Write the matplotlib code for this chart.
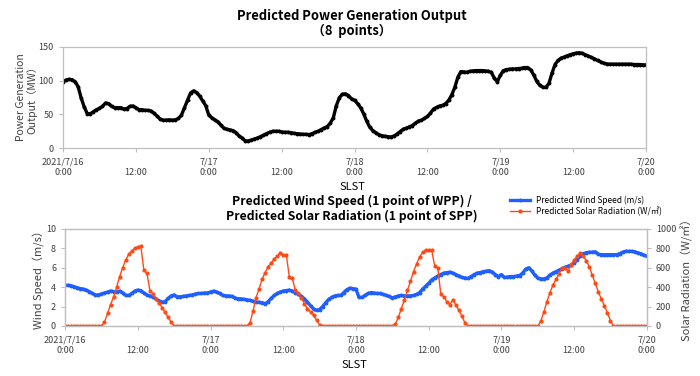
import numpy as np
import matplotlib
matplotlib.use("Agg")
from matplotlib import pyplot as plt

plt.rcParams['font.family'] = ['Noto Sans CJK JP', 'DejaVu Sans']

# 30-minute steps from 2021/7/16 0:00 to 7/20 0:00 (hours)
hours = np.arange(193) * 0.5

power_day1 = [98.5, 101, 102, 101.5, 98.5, 91, 74, 61, 51, 51, 54, 57,
              59, 62, 67, 66, 62, 60, 60, 60, 58, 58.5, 62, 62.5,
              60, 57, 57, 56, 56, 55, 51.5, 47.5, 43, 41.5, 41.5, 42,
              41.5, 42, 44, 49, 60, 71, 82, 85, 82.5, 77, 70, 63]
power_day2 = [49, 45, 42, 39, 34, 29.5, 28, 27, 26, 23, 18, 15,
              11, 10.5, 12, 13.5, 15, 17, 19, 21.5, 23.5, 25, 25, 25,
              24, 23.5, 23.5, 23, 22, 21.5, 21, 20.5, 20.5, 20, 21.5, 23.5,
              25, 27.5, 30, 32, 37, 45, 63, 75, 80, 80.5, 78, 73]
power_day3 = [71, 66, 60, 51, 40, 31, 26, 23, 20, 18.5, 17.5, 17,
              16.5, 18, 21, 24.5, 28, 29.5, 31.5, 33.5, 37, 40, 41.5, 44,
              47, 52, 58, 60.5, 62.5, 63.5, 66, 71, 79, 90, 105, 113.5,
              113, 112.5, 114, 114.5, 115, 115, 115, 114.5, 114, 112.5, 104, 98.5]
power_day4 = [108, 115, 116.5, 117, 117.5, 117.5, 118, 118.5, 119.5, 119.5, 116, 108.5,
              99, 93, 90.5, 90, 96, 111, 124, 130, 133.5, 135, 137, 138.5,
              140, 141, 141.5, 140.5, 138.5, 136.5, 134.5, 132.5, 130, 128, 126, 125,
              124.5, 124.5, 124.5, 124.5, 124.5, 124.5, 124.5, 124.5, 124, 124, 124, 123.5]
power = power_day1 + power_day2 + power_day3 + power_day4 + [123.5]

wind_day1 = [4.2, 4.2, 4.15, 4.05, 3.95, 3.85, 3.8, 3.7, 3.55, 3.35, 3.2, 3.2,
             3.3, 3.4, 3.5, 3.6, 3.55, 3.5, 3.6, 3.4, 3.15, 3.15, 3.35, 3.6,
             3.7, 3.65, 3.4, 3.2, 3.1, 3.0, 2.8, 2.6, 2.45, 2.5, 2.85, 3.1,
             3.2, 3.0, 3.0, 3.05, 3.1, 3.15, 3.2, 3.3, 3.35, 3.35, 3.4, 3.4]
wind_day2 = [3.5, 3.6, 3.5, 3.35, 3.15, 3.1, 3.1, 3.05, 2.9, 2.8, 2.8, 2.75,
             2.7, 2.65, 2.55, 2.45, 2.45, 2.4, 2.3, 2.5, 2.85, 3.15, 3.35, 3.5,
             3.6, 3.65, 3.7, 3.6, 3.45, 3.25, 3.05, 2.8, 2.45, 2.1, 1.75, 1.6,
             1.7, 2.0, 2.4, 2.75, 2.95, 3.1, 3.15, 3.15, 3.45, 3.75, 3.9, 3.85]
wind_day3 = [3.8, 2.95, 2.95, 3.15, 3.35, 3.45, 3.4, 3.35, 3.35, 3.25, 3.15, 3.05,
             2.9, 3.0, 3.1, 3.15, 3.1, 3.1, 3.1, 3.15, 3.25, 3.45, 3.8, 4.1,
             4.4, 4.75, 4.95, 5.15, 5.3, 5.45, 5.5, 5.55, 5.45, 5.3, 5.15, 5.0,
             4.95, 4.9, 5.1, 5.3, 5.45, 5.5, 5.6, 5.65, 5.7, 5.55, 5.3, 5.1]
wind_day4 = [5.3, 5.0, 5.05, 5.1, 5.1, 5.15, 5.2, 5.45, 5.85, 6.0, 5.7, 5.25,
             4.95, 4.85, 4.85, 4.95, 5.25, 5.45, 5.6, 5.75, 5.9, 6.05, 6.15, 6.3,
             6.5, 6.85, 7.2, 7.45, 7.55, 7.6, 7.6, 7.65, 7.4, 7.35, 7.35, 7.35,
             7.35, 7.35, 7.35, 7.45, 7.6, 7.7, 7.7, 7.7, 7.65, 7.55, 7.45, 7.3]
wind = wind_day1 + wind_day2 + wind_day3 + wind_day4 + [7.2]

solar_day1 = [0, 0, 0, 0, 0, 0, 0, 0, 0, 0, 0, 0,
              0, 40, 130, 220, 300, 400, 510, 600, 680, 740, 775, 800,
              815, 825, 575, 545, 365, 330, 280, 240, 190, 140, 90, 40,
              0, 0, 0, 0, 0, 0, 0, 0, 0, 0, 0, 0]
solar_day2 = [0, 0, 0, 0, 0, 0, 0, 0, 0, 0, 0, 0,
              0, 30, 150, 290, 380, 480, 550, 610, 650, 690, 720, 755,
              735, 735, 510, 490, 370, 340, 290, 230, 180, 145, 110, 60,
              10, 0, 0, 0, 0, 0, 0, 0, 0, 0, 0, 0]
solar_day3 = [0, 0, 0, 0, 0, 0, 0, 0, 0, 0, 0, 0,
              0, 20, 90, 180, 270, 370, 460, 560, 640, 710, 760, 785,
              780, 780, 620, 600, 330, 300, 250, 220, 270, 215, 160, 100,
              30, 0, 0, 0, 0, 0, 0, 0, 0, 0, 0, 0]
solar_day4 = [0, 0, 0, 0, 0, 0, 0, 0, 0, 0, 0, 0,
              0, 50, 140, 250, 340, 420, 480, 540, 600, 600, 565, 630,
              680, 720, 750, 725, 675, 610, 525, 440, 350, 280, 210, 135,
              55, 0, 0, 0, 0, 0, 0, 0, 0, 0, 0, 0]
solar = solar_day1 + solar_day2 + solar_day3 + solar_day4 + [0]

tick_hours = [0, 12, 24, 36, 48, 60, 72, 84, 96]
tick_labels = ['2021/7/16\n0:00', '\n12:00', '7/17\n0:00', '\n12:00', '7/18\n0:00',
               '\n12:00', '7/19\n0:00', '\n12:00', '7/20\n0:00']

spine_col = '#bfbfbf'
text_col = '#404040'
blue = '#1f5fff'
orange = '#ff4a14'


def style_axes(ax):
    for s in ax.spines.values():
        s.set_color(spine_col)
        s.set_linewidth(0.9)
    ax.tick_params(colors=spine_col, labelcolor=text_col, labelsize=6.5, length=3, width=0.8)
    ax.set_xlim(0, 96)
    ax.set_xticks(tick_hours)
    ax.set_xticklabels(tick_labels, linespacing=1.3)


fig = plt.figure(figsize=(7, 3.76), dpi=100)

# top: power generation
ax1 = fig.add_axes([0.09, 0.606, 0.833, 0.269])
ax1.plot(hours, power, color='black', lw=2.4, marker='o', ms=1.8)
style_axes(ax1)
ax1.set_ylim(0, 150)
ax1.set_yticks([0, 50, 100, 150])
ax1.set_ylabel('Power Generation\nOutput（MW）', fontsize=7.5, color=text_col, linespacing=1.0, labelpad=1)
ax1.set_xlabel('SLST', fontsize=8, color='black', labelpad=2)
ax1.xaxis.set_label_coords(0.497, -0.33)

fig.text(0.503, 0.957, 'Predicted Power Generation Output', ha='center', va='center',
         fontsize=9.3, fontweight='bold')
fig.text(0.503, 0.917, '（8  points）', ha='center', va='center', fontsize=9.3, fontweight='bold')

# bottom: wind speed and solar radiation
ax2 = fig.add_axes([0.093, 0.133, 0.831, 0.258])
ax2.plot(hours, wind, color=blue, lw=2.4, marker='o', ms=1.8, label='Predicted Wind Speed (m/s)')
style_axes(ax2)
ax2.set_ylim(0, 10)
ax2.set_yticks([0, 2, 4, 6, 8, 10])
ax2.set_ylabel('Wind Speed（m/s）', fontsize=8, color=text_col, labelpad=1)
ax2.set_xlabel('SLST', fontsize=8, color='black', labelpad=2)
ax2.xaxis.set_label_coords(0.497, -0.35)

ax3 = ax2.twinx()
ax3.plot(hours, solar, color=orange, lw=1, marker='o', ms=2, label='Predicted Solar Radiation (W/㎡)')
for s in ax3.spines.values():
    s.set_color(spine_col)
    s.set_linewidth(0.9)
ax3.tick_params(colors=spine_col, labelcolor=text_col, labelsize=6.5, length=3, width=0.8)
ax3.set_ylim(0, 1000)
ax3.set_yticks([0, 200, 400, 600, 800, 1000])
ax3.set_ylabel('Solar Radiation（W/㎡）', fontsize=8, color=text_col, labelpad=3)

fig.text(0.503, 0.463, 'Predicted Wind Speed (1 point of WPP) /', ha='center', va='center',
         fontsize=8.8, fontweight='bold')
fig.text(0.503, 0.425, 'Predicted Solar Radiation (1 point of SPP)', ha='center', va='center',
         fontsize=8.8, fontweight='bold')

handles = ax2.get_lines() + ax3.get_lines()
fig.legend(handles, [h.get_label() for h in handles], loc='center left',
           bbox_to_anchor=(0.722, 0.452), fontsize=6, frameon=False,
           handlelength=2.4, labelspacing=0.2, borderpad=0, handletextpad=0.8)

fig.savefig('out.png', dpi=100)
